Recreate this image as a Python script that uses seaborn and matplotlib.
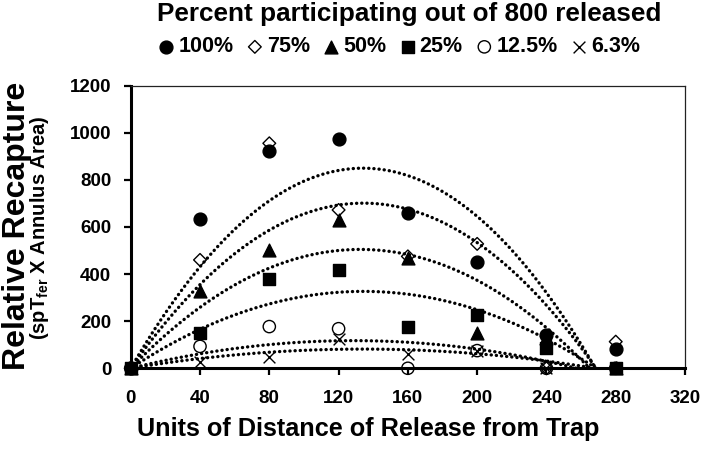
import numpy as np
import pandas as pd
import matplotlib
matplotlib.use("Agg")
import matplotlib.pyplot as plt
import seaborn as sns

# ---------------- data ----------------
distance = [0, 40, 80, 120, 160, 200, 240, 280]
series_labels = ["100%", "75%", "50%", "25%", "12.5%", "6.3%"]
pct_100 = [0, 635, 922, 973, 658, 452, 140, 83]
pct_75 = [0, 460, 955, 672, 475, 528, 0, 113]
pct_50 = [0, 328, 500, 628, 468, 148, 128, 0]
pct_25 = [0, 151, 378, 417, 177, 226, 88, 0]
pct_12_5 = [0, 93, 177, 168, 0, 75, 0, 0]
pct_6_3 = [0, 25, 50, 125, 62, 75, 0, 0]
x_ticks = [0, 40, 80, 120, 160, 200, 240, 280, 320]
y_ticks = [0, 200, 400, 600, 800, 1000, 1200]

series_values = [pct_100, pct_75, pct_50, pct_25, pct_12_5, pct_6_3]

# ---------------- style ----------------
sns.set_theme(style="white")
plt.rcParams["font.family"] = ["Liberation Sans", "DejaVu Sans"]
plt.rcParams["font.weight"] = "bold"
plt.rcParams["text.color"] = "black"
plt.rcParams["axes.labelcolor"] = "black"
plt.rcParams["mathtext.fontset"] = "custom"
plt.rcParams["mathtext.bf"] = "Liberation Sans:bold"
plt.rcParams["mathtext.rm"] = "Liberation Sans:bold"

marker_specs = {
    "100%": dict(marker="o", s=85, fc="black"),
    "75%": dict(marker="D", s=42, fc="none"),
    "50%": dict(marker="^", s=85, fc="black"),
    "25%": dict(marker="s", s=66, fc="black"),
    "12.5%": dict(marker="o", s=78, fc="none"),
    "6.3%": dict(marker="x", s=72, fc=None),
}

fig = plt.figure(figsize=(7.14, 4.54), dpi=100)
ax = fig.add_axes([0.1831, 0.1888, 0.7763, 0.6227])

# zero-intercept 2nd-order polynomial trend lines fitted to each series
grid = np.linspace(0, 280, 400)
xs = np.asarray(distance, dtype=float)
design = np.column_stack([xs, xs ** 2])
for lab, ys in zip(series_labels, series_values):
    coef, *_ = np.linalg.lstsq(design, np.asarray(ys, dtype=float), rcond=None)
    fit = coef[0] * grid + coef[1] * grid ** 2
    sns.lineplot(x=grid, y=fit, ax=ax, color="black", linewidth=2.4,
                 linestyle=(0, (0.05, 1.5)), dash_capstyle="round",
                 legend=False, zorder=2)

# data markers
for lab, ys in zip(series_labels, series_values):
    spec = marker_specs[lab]
    kw = dict(x=distance, y=ys, ax=ax, marker=spec["marker"], s=spec["s"],
              color="black", label=lab, clip_on=False, zorder=3, legend=False)
    if spec["fc"] is not None:
        kw.update(facecolor=spec["fc"], edgecolor="black", linewidth=1.0)
    else:
        kw.update(linewidth=1.0)
    sns.scatterplot(**kw)

ax.set_xlim(0, 320)
ax.set_ylim(0, 1200)
ax.set_xticks(x_ticks)
ax.set_yticks(y_ticks)
ax.set_xlabel("")
ax.set_ylabel("")
ax.tick_params(axis="both", which="major", direction="out", length=5, width=1.6,
               color="black", labelcolor="black", labelsize=13.5)
ax.tick_params(axis="x", bottom=True, pad=10.5)
ax.tick_params(axis="y", left=True, pad=9)
for side in ["left", "bottom"]:
    ax.spines[side].set_color("black")
    ax.spines[side].set_linewidth(2.2)
for side in ["top", "right"]:
    ax.spines[side].set_color("#222222")
    ax.spines[side].set_linewidth(0.9)
if ax.get_legend() is not None:
    ax.get_legend().remove()

# legend row
handles, labels = ax.get_legend_handles_labels()
fig.legend(handles, labels, loc="center", bbox_to_anchor=(0.560, 1 - 47 / 454),
           ncol=6, frameon=False, fontsize=15.5, handlelength=0.6,
           handletextpad=0.25, columnspacing=0.7, borderpad=0, scatterpoints=1)

# titles / labels
fig.text(409.5 / 714, 1 - 21 / 454, "Percent participating out of 800 released",
         ha="center", va="baseline", fontsize=18.8, weight="bold")
fig.text(368.5 / 714, 1 - 436 / 454, "Units of Distance of Release from Trap",
         ha="center", va="baseline", fontsize=18.2, weight="bold")
fig.text(25 / 714, 1 - 226 / 454, "Relative Recapture", rotation=90,
         rotation_mode="anchor", ha="center", va="baseline", fontsize=23,
         weight="bold")
fig.text(45 / 714, 1 - 228 / 454, r"(spT$_{\mathbf{fer}}$ X Annulus Area)",
         rotation=90, rotation_mode="anchor", ha="center", va="baseline",
         fontsize=14.5, weight="bold")

fig.savefig("out.png", dpi=100)
